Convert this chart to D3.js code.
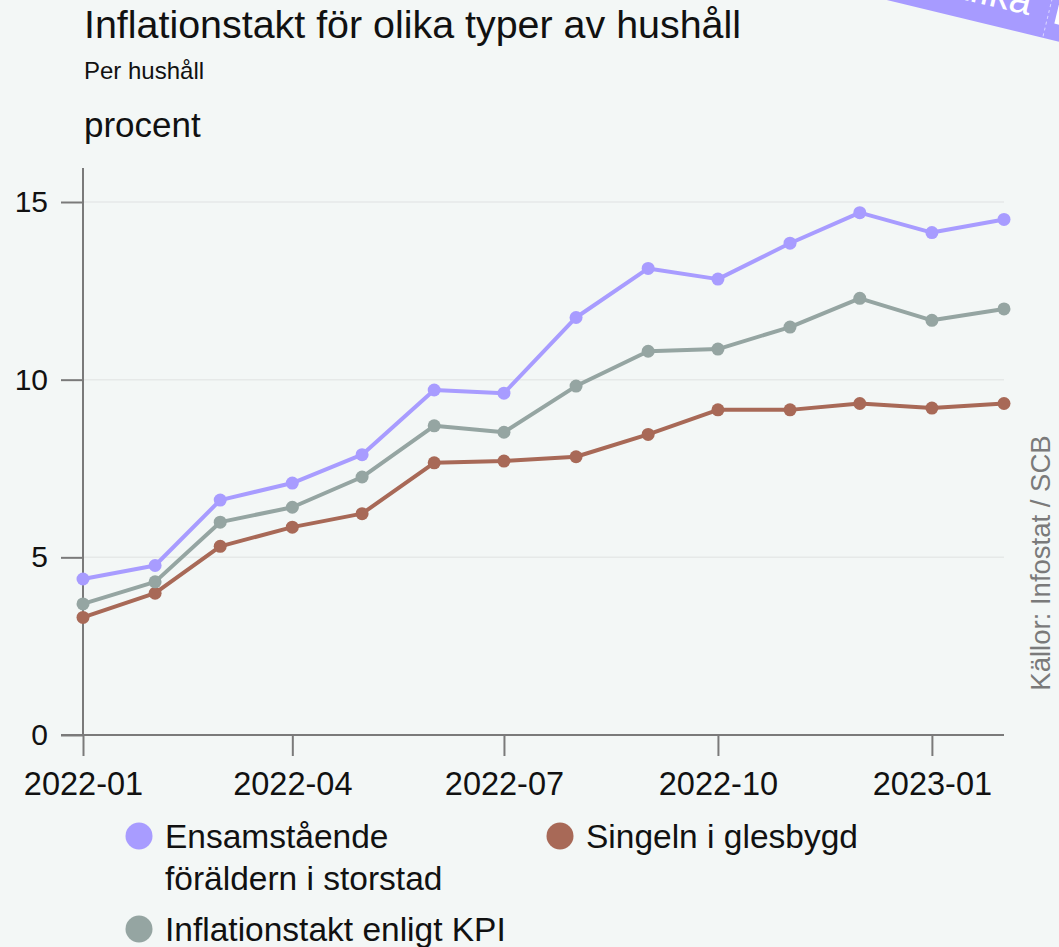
<!DOCTYPE html>
<html>
<head>
<meta charset="utf-8">
<script src="https://cdn.jsdelivr.net/npm/d3@7"></script>
<style>
  body { margin: 0; background: #f3f7f6; }
  svg { display: block; font-family: "Liberation Sans", Arial, sans-serif; }
</style>
</head>
<body>
<script>
// months, one point per month
const months = ["2022-01","2022-02","2022-03","2022-04","2022-05","2022-06","2022-07",
  "2022-08","2022-09","2022-10","2022-11","2022-12","2023-01","2023-02"];

const ensamstaende = [4.39, 4.77, 6.61, 7.09, 7.89, 9.71, 9.62, 11.75, 13.13, 12.83, 13.84, 14.70, 14.14, 14.51];
const kpi          = [3.69, 4.31, 5.99, 6.41, 7.26, 8.70, 8.52, 9.82, 10.80, 10.86, 11.48, 12.29, 11.67, 11.99];
const singeln      = [3.31, 3.99, 5.31, 5.85, 6.23, 7.66, 7.71, 7.83, 8.46, 9.15, 9.15, 9.33, 9.20, 9.33];

const series = [
  { name: "Ensamstående föräldern i storstad", values: ensamstaende, color: "#a89cff" },
  { name: "Inflationstakt enligt KPI", values: kpi, color: "#95a5a2" },
  { name: "Singeln i glesbygd", values: singeln, color: "#a86957" }
];

const yTicks = [0, 5, 10, 15];
const xTicks = ["2022-01", "2022-04", "2022-07", "2022-10", "2023-01"];

const width = 1059, height = 947;
const margin = { top: 168, right: 55, bottom: 212, left: 83 };

const parse = d3.utcParse("%Y-%m");
const fmt = d3.utcFormat("%Y-%m");

const svg = d3.select("body").append("svg")
  .attr("width", width)
  .attr("height", height);

svg.append("rect").attr("width", width).attr("height", height).attr("fill", "#f3f7f6");

const x = d3.scaleUtc()
  .domain([parse(months[0]), parse(months[months.length - 1])])
  .range([margin.left, width - margin.right]);

const y = d3.scaleLinear()
  .domain([0, 15])
  .range([735, 202]);

// title
svg.append("text").attr("x", 84).attr("y", 38)
  .attr("font-size", 38).attr("fill", "#111")
  .attr("textLength", 657).attr("lengthAdjust", "spacingAndGlyphs")
  .text("Inflationstakt för olika typer av hushåll");
svg.append("text").attr("x", 84).attr("y", 79)
  .attr("font-size", 24).attr("fill", "#111")
  .text("Per hushåll");
svg.append("text").attr("x", 84).attr("y", 137)
  .attr("font-size", 35).attr("fill", "#111")
  .text("procent");

// gridlines
svg.append("g")
  .selectAll("line")
  .data(yTicks.filter(d => d > 0))
  .join("line")
  .attr("x1", margin.left).attr("x2", width - margin.right)
  .attr("y1", d => y(d)).attr("y2", d => y(d))
  .attr("stroke", "#e6e9e8").attr("stroke-width", 1.5);

// y axis
const yAxis = svg.append("g")
  .attr("transform", `translate(${margin.left},0)`)
  .call(d3.axisLeft(y).tickValues(yTicks).tickSize(22).tickPadding(13))
  .call(g => g.select(".domain").remove());
yAxis.append("line")
  .attr("x1", 0).attr("x2", 0).attr("y1", margin.top).attr("y2", y(0))
  .attr("stroke", "#7a7a7a").attr("stroke-width", 2);
yAxis.selectAll(".tick line").attr("stroke", "#7a7a7a").attr("stroke-width", 2);
yAxis.selectAll(".tick text").attr("font-size", 30).attr("fill", "#111")
  .attr("font-family", "Liberation Sans, Arial, sans-serif");

// x axis
const xAxis = svg.append("g")
  .attr("transform", `translate(0,${y(0)})`)
  .call(d3.axisBottom(x).tickValues(xTicks.map(parse)).tickFormat(fmt).tickSize(21).tickPadding(16))
  .call(g => g.select(".domain").remove());
xAxis.append("line")
  .attr("x1", 61).attr("x2", width - margin.right).attr("y1", 0).attr("y2", 0)
  .attr("stroke", "#7a7a7a").attr("stroke-width", 2);
xAxis.selectAll(".tick line").attr("stroke", "#7a7a7a").attr("stroke-width", 2);
xAxis.selectAll(".tick text").attr("font-size", 32.5).attr("fill", "#111")
  .attr("font-family", "Liberation Sans, Arial, sans-serif");

// lines and dots
const line = d3.line()
  .x((d, i) => x(parse(months[i])))
  .y(d => y(d));

const plot = svg.append("g");
const order = [series[2], series[1], series[0]];
order.forEach(s => {
  plot.append("path")
    .datum(s.values)
    .attr("fill", "none")
    .attr("stroke", s.color)
    .attr("stroke-width", 4)
    .attr("stroke-linejoin", "round")
    .attr("d", line);
  plot.append("g")
    .selectAll("circle")
    .data(s.values)
    .join("circle")
    .attr("cx", (d, i) => x(parse(months[i])))
    .attr("cy", d => y(d))
    .attr("r", 6.5)
    .attr("fill", s.color);
});

// legend
const legendItems = [
  { s: series[0], x: 139, y: 836, lines: ["Ensamstående", "föräldern i storstad"] },
  { s: series[2], x: 560, y: 836, lines: ["Singeln i glesbygd"] },
  { s: series[1], x: 139, y: 929, lines: ["Inflationstakt enligt KPI"] }
];
const legend = svg.append("g");
legendItems.forEach(it => {
  legend.append("circle").attr("cx", it.x).attr("cy", it.y).attr("r", 13.5).attr("fill", it.s.color);
  const t = legend.append("text")
    .attr("x", it.x + 26).attr("y", it.y + 12)
    .attr("font-size", 33.5).attr("fill", "#111");
  it.lines.forEach((l, i) => {
    t.append("tspan").attr("x", it.x + 26).attr("dy", i ? 42 : 0).text(l);
  });
});

// source
svg.append("text")
  .attr("transform", "translate(1050,563) rotate(-90)")
  .attr("text-anchor", "middle")
  .attr("font-size", 27.5).attr("fill", "#7a7a7a")
  .text("Källor: Infostat / SCB");

// corner ribbon, mostly outside the picture
const ribbon = svg.append("g").attr("transform", "translate(1059,0) rotate(13.6)");
ribbon.append("rect").attr("x", -260).attr("y", -60).attr("width", 360).attr("height", 100.5)
  .attr("fill", "#a79bff");
ribbon.append("text").attr("x", -26).attr("y", 22)
  .attr("text-anchor", "end").attr("font-size", 40).attr("fill", "#fff")
  .text("Grafika");
ribbon.append("line").attr("x1", -7).attr("x2", -7).attr("y1", -60).attr("y2", 40)
  .attr("stroke", "#fff").attr("stroke-width", 1).attr("stroke-dasharray", "3,3").attr("opacity", 0.6);
ribbon.append("rect").attr("x", 1).attr("y", -10).attr("width", 6).attr("height", 34)
  .attr("fill", "#fff");
</script>
</body>
</html>
